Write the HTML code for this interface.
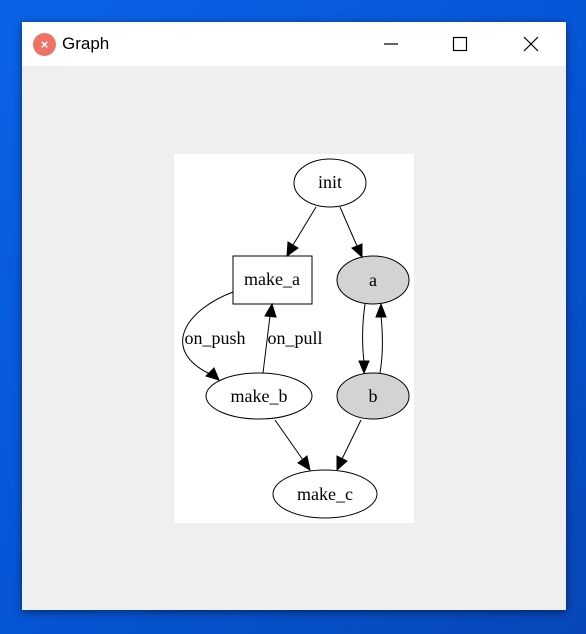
<!DOCTYPE html>
<html><head><meta charset="utf-8"><style>
html,body{margin:0;padding:0;width:586px;height:634px;overflow:hidden;}
body{background:linear-gradient(135deg,#0a63e6 0%,#0656d6 50%,#0747b8 100%);position:relative;font-family:"Liberation Sans",sans-serif;}
.win{position:absolute;left:22px;top:22px;width:544px;height:588px;background:#efefef;box-shadow:0 2px 8px rgba(0,0,0,0.5);}
.tb{position:absolute;left:0;top:0;width:544px;height:44px;background:#fff;}
.ic{position:absolute;left:11px;top:11px;width:23px;height:23px;border-radius:50%;background:#ec7366;color:#fff;font-size:13px;line-height:23px;text-align:center;font-weight:bold;}
.tt{position:absolute;left:40px;top:12px;font-size:17px;color:#000;}
svg{position:absolute;left:0;top:0;}
</style></head><body>
<div class="win"><div class="tb"><div class="ic">×</div><div class="tt">Graph</div></div></div>
<svg width="586" height="634" viewBox="0 0 586 634">
<g stroke="#000" stroke-width="1.2" fill="none">
<line x1="384" y1="44" x2="398" y2="44"/>
<rect x="453.5" y="37.5" width="13" height="13"/>
<line x1="524" y1="37" x2="538" y2="51"/><line x1="538" y1="37" x2="524" y2="51"/>
</g>
<rect x="174" y="154" width="240" height="369" fill="#fff"/>
<g font-family="'Liberation Serif',serif" font-size="18" text-anchor="middle" fill="#000">
<g stroke="#000" stroke-width="1" fill="#fff">
<ellipse cx="330" cy="183" rx="36" ry="24"/>
<rect x="233" y="256" width="79" height="48"/>
<ellipse cx="373" cy="280" rx="36" ry="24" fill="#d3d3d3"/>
<ellipse cx="259" cy="396" rx="53" ry="23"/>
<ellipse cx="373" cy="396" rx="36" ry="23" fill="#d3d3d3"/>
<ellipse cx="325" cy="494" rx="52" ry="24"/>
</g>
<g stroke="#000" stroke-width="1" fill="none">
<line x1="316" y1="207" x2="293" y2="245"/>
<line x1="340" y1="207" x2="357" y2="246"/>
<path d="M233,292 C185,310 160,350 210,374"/>
<line x1="263" y1="373" x2="270" y2="316"/>
<path d="M365,304 C362,325 362,345 364,362"/>
<path d="M380,373 C383,355 383,335 381,316"/>
<line x1="275" y1="420" x2="303" y2="460"/>
<line x1="361" y1="420" x2="342" y2="459"/>
</g>
<g fill="#000" stroke="#000">
<polygon points="287,256 288,242 298,248"/>
<polygon points="362,257 352,248 362,244"/>
<polygon points="219,380 206,376 214,368"/>
<polygon points="272,304 276,317 265,316"/>
<polygon points="364,373 359,361 369,361"/>
<polygon points="381,304 376,317 386,317"/>
<polygon points="310,470 298,463 307,456"/>
<polygon points="337,470 337,456 347,461"/>
</g>
<text x="330" y="188">init</text>
<text x="272" y="285">make_a</text>
<text x="373" y="286">a</text>
<text x="259" y="402">make_b</text>
<text x="373" y="402">b</text>
<text x="325" y="500">make_c</text>
<text x="215" y="344">on_push</text>
<text x="295" y="344">on_pull</text>
</g>
</svg>
</body></html>
